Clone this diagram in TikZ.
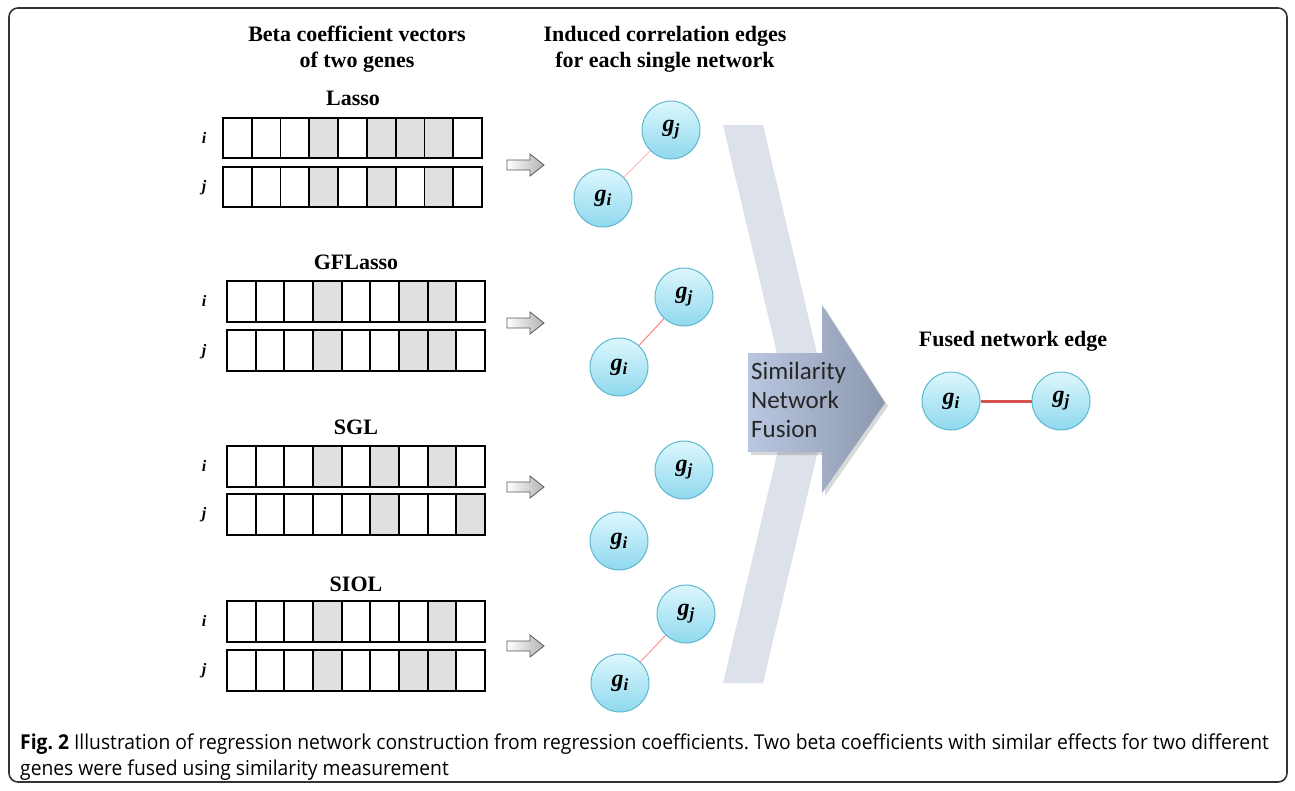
\documentclass[tikz,border=0pt]{standalone}
\usepackage{fontspec}
\setmainfont{Liberation Serif}
\newfontfamily\sfnfont{Carlito}
\newfontfamily\capfont[FakeStretch=0.94]{Open Sans}
\frenchspacing
\definecolor{cellgray}{HTML}{E0E0E0}
\definecolor{bandcol}{HTML}{DDE1E9}
\definecolor{arrL}{HTML}{BAC7E0}
\definecolor{arrR}{HTML}{8C98AE}
\definecolor{geneline}{HTML}{5DB7CE}
\definecolor{genetop}{HTML}{DDF7FD}
\definecolor{genebot}{HTML}{8FD8EE}
\definecolor{framecol}{HTML}{333333}
\definecolor{fusedred}{HTML}{D9534F}
\tikzset{
  cellline/.style={line width=1.8pt, draw=black},
  gene/.style={circle, minimum size=58pt, inner sep=0pt, draw=geneline, line width=1pt,
    top color=genetop, bottom color=genebot, font=\fontsize{24}{24}\selectfont\bfseries\itshape},
  title/.style={font=\fontsize{22}{26}\selectfont\bfseries, align=center},
  meth/.style={font=\fontsize{22}{22}\selectfont\bfseries},
  rowlab/.style={font=\fontsize{16}{16}\selectfont\bfseries\itshape},
  blockarrow/.style={draw=black!65, line width=0.8pt, left color=white, right color=black!30},
  edgeA/.style={draw=red!30, line width=0.8pt},
  edgeB/.style={draw=red!55, line width=0.9pt},
  edgeC/.style={draw=red!45, line width=0.9pt},
  fusededge/.style={draw=fusedred, line width=3pt},
}
\newcommand\gi{g\raisebox{-4pt}{\fontsize{17}{17}\selectfont\textit{\textbf{i}}}}
\newcommand\gj{g\raisebox{-4pt}{\fontsize{17}{17}\selectfont\textit{\textbf{j}}}}
\newcommand\betarow[5]{%
  \pgfmathsetmacro\cw{#3/9}
  \foreach \s in {#5}{\fill[cellgray] ({#1+(\s-1)*\cw},#2) rectangle ++(\cw,#4);}
  \foreach \k in {1,...,8}{\draw[cellline] ({#1+\k*\cw},#2) -- ++(0,#4);}
  \draw[cellline] (#1,#2) rectangle ++(#3,#4);
}
\newcommand\smallarrow[2]{%
  \path[blockarrow] (#1,#2-5) -- (#1+23,#2-5) -- (#1+23,#2-11) -- (#1+37,#2) -- (#1+23,#2+11) -- (#1+23,#2+5) -- (#1,#2+5) -- cycle;
}
\begin{document}
\begin{tikzpicture}[x=1pt,y=-1pt]
\useasboundingbox (0,0) rectangle (1295,790);
% frame
\draw[framecol, line width=1.6pt, rounded corners=9pt] (9,8) rectangle (1287,782);
% headers
\node[title] (h1) at (357,49) {Beta coefficient vectors\\of two genes};
\node[title] (h2) at (665,49) {Induced correlation edges\\for each single network};
% method labels
\node[meth] (m1) at (353,98) {Lasso};
\node[meth] (m2) at (356,262) {GFLasso};
\node[meth] (m3) at (356,427) {SGL};
\node[meth] (m4) at (356,584) {SIOL};
% row labels
\node[rowlab] at (204,138) {i};
\node[rowlab] at (204,188) {j};
\node[rowlab] at (204,301) {i};
\node[rowlab] at (204,352) {j};
\node[rowlab] at (204,466) {i};
\node[rowlab] at (204,515) {j};
\node[rowlab] at (204,621) {i};
\node[rowlab] at (204,671) {j};
% vectors
\betarow{223}{118}{259}{40}{4,6,7,8}
\betarow{223}{167}{259}{40}{4,6,8}
\betarow{227}{281}{258}{41}{4,7,8}
\betarow{227}{330}{258}{41}{4,7,8}
\betarow{227}{446}{258}{41}{4,6,8}
\betarow{227}{494}{258}{41}{6,9}
\betarow{227}{601}{258}{41}{4,8}
\betarow{227}{650}{258}{41}{4,7,8}
% small arrows
\smallarrow{507}{165}
\smallarrow{507}{323}
\smallarrow{507}{487}
\smallarrow{507}{646}
% chevron band
\fill[bandcol] (723,125) -- (763,125) -- (829,404) -- (763,683) -- (723,683) -- (789,404) -- cycle;
% big arrow
\fill[black, opacity=0.15] (751,356) -- (825,356) -- (825,308) -- (888,406) -- (825,496) -- (825,455) -- (751,455) -- cycle;
\shade[left color=arrL, right color=arrR] (748,353) -- (822,353) -- (822,305) -- (885,403) -- (822,493) -- (822,452) -- (748,452) -- cycle;
\node[anchor=north west, align=left, inner sep=0pt, text=black!85, font=\sfnfont\fontsize{25}{29}\selectfont] (snf) at (751,362) {Similarity\\Network\\Fusion};
% gene nodes
\node[gene] (aj) at (671,130) {\gj};
\node[gene] (ai) at (603,198) {\gi};
\node[gene] (bj) at (684,297) {\gj};
\node[gene] (bi) at (619,367) {\gi};
\node[gene] (cj) at (684,470) {\gj};
\node[gene] (ci) at (619,541) {\gi};
\node[gene] (dj) at (686,614) {\gj};
\node[gene] (di) at (620,683) {\gi};
\draw[edgeA] (ai) -- (aj);
\draw[edgeB] (bi) -- (bj);
\draw[edgeC] (di) -- (dj);
% fused
\node[title] (fh) at (1013,341) {Fused network edge};
\node[gene] (fi) at (951,401) {\gi};
\node[gene] (fj) at (1061,401) {\gj};
\draw[fusededge] (fi) -- (fj);
% caption
\node[anchor=base west, inner sep=0pt, font=\capfont\fontsize{20.5}{20.5}\selectfont] (cap1) at (20,749) {\textbf{Fig.~2} Illustration of regression network construction from regression coefficients. Two beta coefficients with similar effects for two different};
\node[anchor=base west, inner sep=0pt, font=\capfont\fontsize{20.5}{20.5}\selectfont] (cap2) at (20,775) {genes were fused using similarity measurement};
\end{tikzpicture}
\end{document}
